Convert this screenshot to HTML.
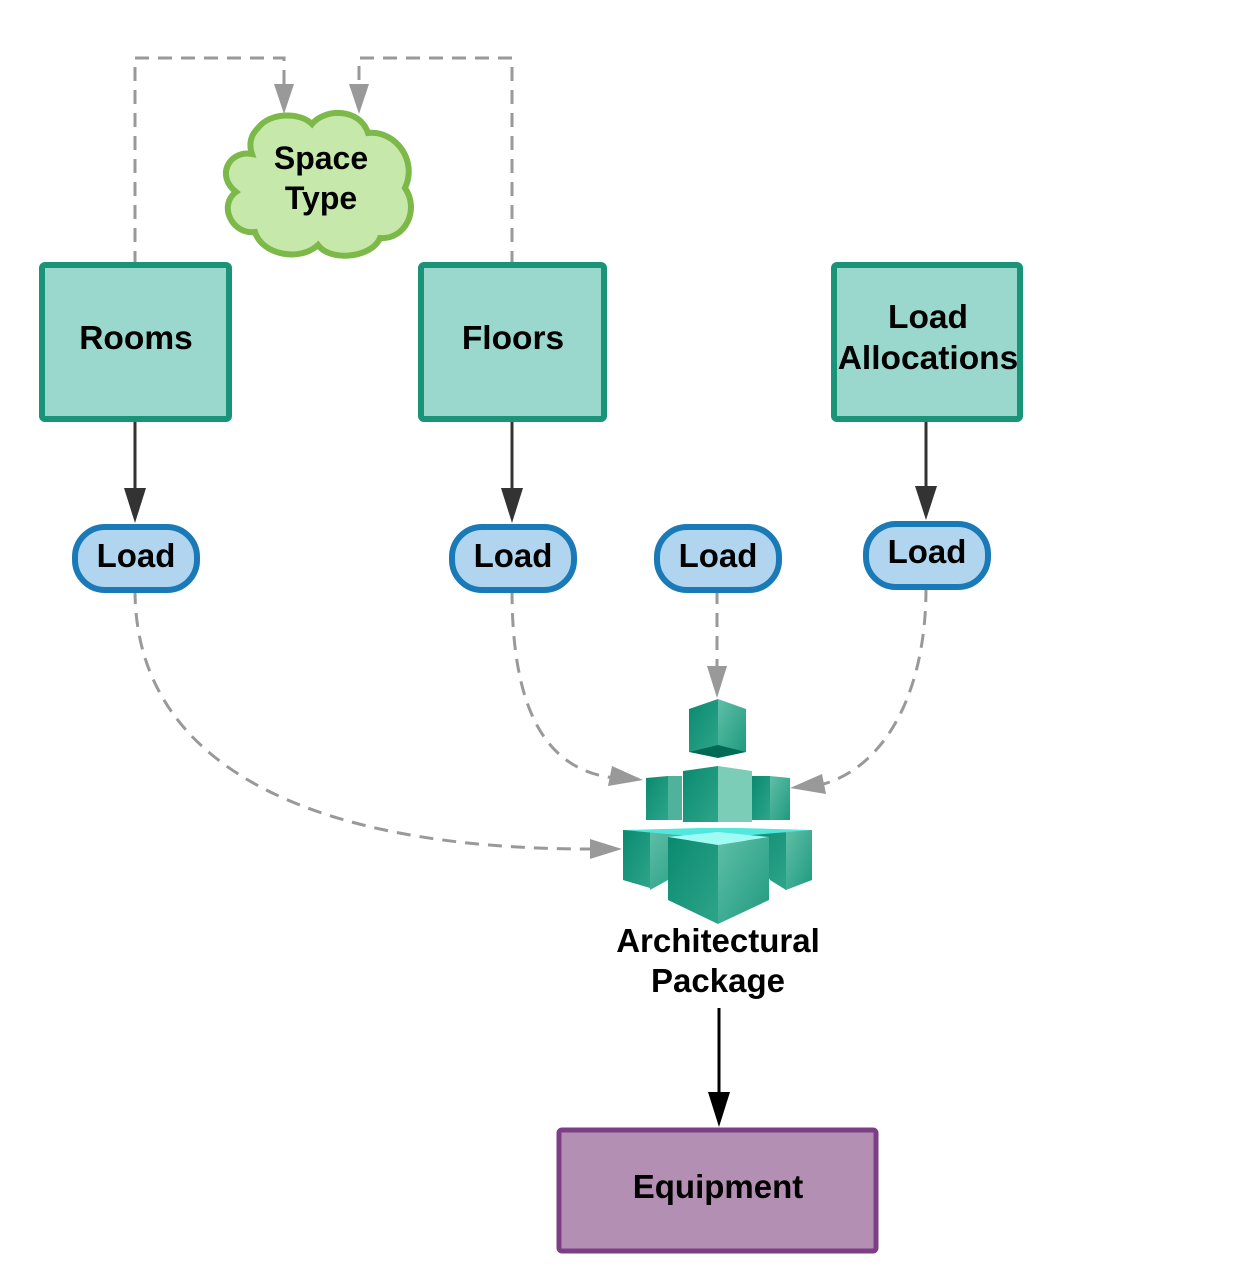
<!DOCTYPE html>
<html><head><meta charset="utf-8"><style>
html,body{margin:0;padding:0;background:#fff;}
svg{display:block;}
text{font-family:"Liberation Sans",sans-serif;font-weight:bold;fill:#000;text-anchor:middle;}
</style></head><body>
<svg width="1245" height="1282" viewBox="0 0 1245 1282" xmlns="http://www.w3.org/2000/svg">
<defs>
<linearGradient id="cl" x1="0" y1="0" x2="1" y2="1"><stop offset="0" stop-color="#0a8a70"/><stop offset="1" stop-color="#2ea58a"/></linearGradient>
<linearGradient id="cr" x1="0" y1="0" x2="1" y2="1"><stop offset="0" stop-color="#5fbfa7"/><stop offset="1" stop-color="#1f9a7f"/></linearGradient>
</defs>
<g fill="none" stroke="#999" stroke-width="3" stroke-dasharray="14,9">
<path d="M135,265 V58 H284 V90"/>
<path d="M512,265 V58 H359 V90"/>
<path d="M135,590 C135,760 300,850 595,849"/>
<path d="M512,590 C512,700 540,770 615,778"/>
<path d="M717,590 V668"/>
<path d="M926,588 C926,700 880,770 820,785"/>
</g>
<g fill="#999">
<polygon points="274,84 294,84 284,114"/>
<polygon points="349,84 369,84 359,114"/>
<polygon points="590,839 590,859 622,849"/>
<polygon points="612,766 608,786 643,780"/>
<polygon points="707,666 727,666 717,698"/>
<polygon points="822,774 826,794 790,788"/>
</g>
<g stroke="#333" stroke-width="3">
<line x1="135" y1="419" x2="135" y2="492"/>
<line x1="512" y1="419" x2="512" y2="492"/>
<line x1="926" y1="419" x2="926" y2="489"/>
<line x1="719" y1="1008" x2="719" y2="1095" stroke="#000"/>
</g>
<g fill="#333">
<polygon points="124,488 146,488 135,523"/>
<polygon points="501,488 523,488 512,523"/>
<polygon points="915,486 937,486 926,520"/>
<polygon points="708,1092 730,1092 719,1127" fill="#000"/>
</g>
<path d="M258,128 C270,112 300,112 312,124 C325,108 360,108 368,133 C395,130 418,160 405,188 C420,210 405,240 380,238 C372,258 330,262 318,245 C300,262 262,255 255,232 C232,235 218,205 236,192 C215,175 230,150 252,154 C248,142 252,134 258,128 Z" fill="#c6e9ab" stroke="#7cb948" stroke-width="6"/>
<text x="321" y="169" font-size="32">Space</text>
<text x="321" y="209" font-size="32">Type</text>
<g fill="#9ad7cc" stroke="#1a9479" stroke-width="6">
<rect x="42" y="265" width="187" height="154" rx="3"/>
<rect x="421" y="265" width="183" height="154" rx="3"/>
<rect x="834" y="265" width="186" height="154" rx="3"/>
</g>
<text x="136" y="349" font-size="33.5">Rooms</text>
<text x="513" y="349" font-size="33.5">Floors</text>
<text x="928" y="328" font-size="33.5">Load</text>
<text x="928" y="369" font-size="33.5">Allocations</text>
<g fill="#b1d5ee" stroke="#1a7ab8" stroke-width="6">
<rect x="75" y="527" width="122" height="63" rx="30"/>
<rect x="452" y="527" width="122" height="63" rx="30"/>
<rect x="657" y="527" width="122" height="63" rx="30"/>
<rect x="866" y="524" width="122" height="63" rx="30"/>
</g>
<text x="136" y="567" font-size="33">Load</text>
<text x="513" y="567" font-size="33">Load</text>
<text x="718" y="567" font-size="33">Load</text>
<text x="927" y="563" font-size="33">Load</text>
<polygon points="689,709 718,699 718,750 689,752" fill="url(#cl)"/>
<polygon points="718,699 746,709 746,752 718,750" fill="url(#cr)"/>
<polygon points="689,752 718,758 746,752 718,745" fill="#006a55"/>
<polygon points="646,778 668,776 668,820 646,820" fill="url(#cl)"/>
<polygon points="668,776 682,776 682,820 668,820" fill="#4fb39b"/>
<polygon points="752,776 770,776 770,820 752,820" fill="url(#cl)"/>
<polygon points="770,776 790,778 790,820 770,820" fill="url(#cr)"/>
<polygon points="683,771 718,766 718,822 683,822" fill="url(#cl)"/>
<polygon points="718,766 752,771 752,822 718,822" fill="#7ccdb8"/>
<polygon points="623,830 650,830 650,888 623,880" fill="url(#cl)"/>
<polygon points="650,830 696,830 668,880 650,890" fill="url(#cr)"/>
<polygon points="740,830 786,830 786,890 770,880" fill="url(#cl)"/>
<polygon points="786,830 812,830 812,880 786,890" fill="url(#cr)"/>
<polygon points="623,830 700,828 740,828 812,830 740,836 690,836" fill="#50e8dc"/>
<polygon points="668,837 718,832 769,837 718,845" fill="#a0fbf5"/>
<polygon points="668,837 718,845 718,924 668,900" fill="url(#cl)"/>
<polygon points="718,845 769,837 769,900 718,924" fill="url(#cr)"/>
<text x="718" y="952" font-size="33">Architectural</text>
<text x="718" y="992" font-size="33">Package</text>
<rect x="559" y="1130" width="317" height="121" rx="3" fill="#b38fb3" stroke="#7c3f85" stroke-width="5"/>
<text x="718" y="1198" font-size="33">Equipment</text>
</svg>
</body></html>
